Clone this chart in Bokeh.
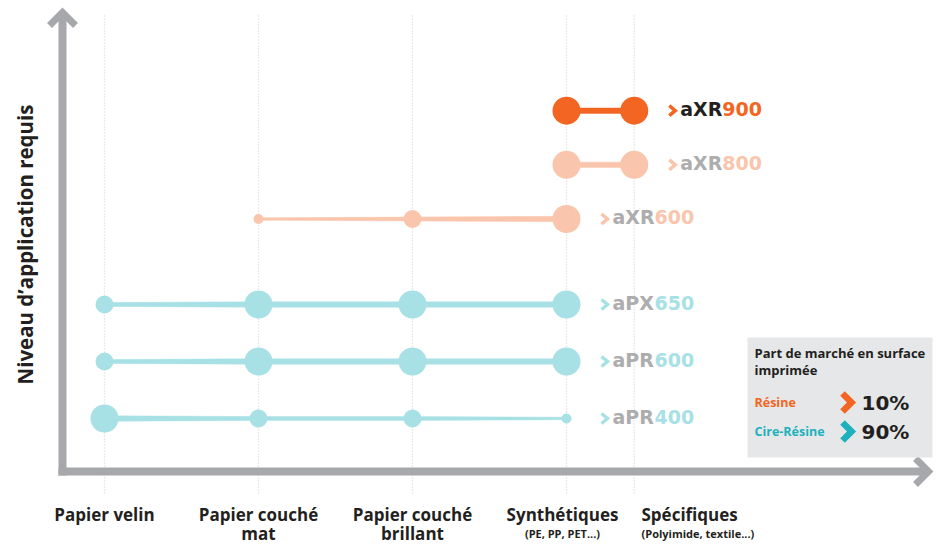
import math
from bokeh.plotting import figure
from bokeh.models import Range1d
from bokeh.core.properties import value
from bokeh.embed import file_html
from bokeh.resources import INLINE

# ---------------- data ----------------
categories = ["Papier velin", "Papier couché", "Papier couché", "Synthétiques", "Spécifiques"]
categories_line2 = ["", "mat", "brillant", "(PE, PP, PET...)", "(Polyimide, textile...)"]
category_pos = [0, 1, 2, 3, 3.44]

series_brand = ["aXR", "aXR", "aXR", "aPX", "aPR", "aPR"]
series_number = ["900", "800", "600", "650", "600", "400"]
series_level = [6.4, 5.45, 4.5, 3, 2, 1]
series_cats = [[3, 4], [3, 4], [1, 2, 3], [0, 1, 2, 3], [0, 1, 2, 3], [0, 1, 2, 3]]
series_sizes = [[3, 3], [3, 3], [1, 2, 3], [2, 3, 3, 3], [2, 3, 3, 3], [3, 2, 2, 1]]

share_labels = ["Résine", "Cire-Résine"]
share_values = ["10%", "90%"]

# ---------------- styles ----------------
ORANGE = "#f26522"
PEACH = "#f9c6ad"
CYAN = "#a8e1e5"
TEAL = "#1cb1bd"
DARK = "#231f20"
GREY_TXT = "#adadad"
AXIS = "#a7a8ab"
series_color = [ORANGE, PEACH, PEACH, CYAN, CYAN, CYAN]
brand_color = [DARK, GREY_TXT, GREY_TXT, GREY_TXT, GREY_TXT, GREY_TXT]
diam = {1: 10, 2: 18, 3: 28}
half_w = {1: 1.2, 2: 1.9, 3: 2.7}
FONT = value("Open Sans")
LOGO = value("DejaVu Sans")

W, H = 939, 544
PX_X = 154.0   # pixels per category step
PX_Y = 57.0    # pixels per level


def X(px):
    return (px - 104) / PX_X


def Y(py):
    return 1 + (418 - py) / PX_Y


p = figure(width=W, height=H, output_backend="svg", toolbar_location=None,
           x_range=Range1d(X(0), X(W)), y_range=Range1d(Y(H), Y(0)),
           x_axis_type=None, y_axis_type=None, min_border=0)
p.outline_line_color = None
p.background_fill_color = "white"
p.border_fill_color = "white"

# dotted guides
p.segment(x0=category_pos, y0=[Y(493)] * 5, x1=category_pos, y1=[Y(13)] * 5,
          line_color="#d6d6d6", line_width=1.3, line_dash="1 2")

# axes arrows
p.line([X(62), X(62)], [Y(475), Y(12)], line_color=AXIS, line_width=8)
p.line([X(49), X(62), X(75)], [Y(25), Y(12), Y(25)], line_color=AXIS, line_width=7,
       line_join="miter")
p.line([X(58), X(928)], [Y(471), Y(471)], line_color=AXIS, line_width=8)
p.line([X(915), X(928), X(915)], [Y(458), Y(471), Y(484)], line_color=AXIS, line_width=7,
       line_join="miter")

# series: tapered connectors + dots
for i in range(len(series_level)):
    yv = series_level[i]
    xs = [category_pos[c] for c in series_cats[i]]
    ss = series_sizes[i]
    col = series_color[i]
    px_list, py_list = [], []
    for k in range(len(xs) - 1):
        h0 = half_w[ss[k]] / PX_Y
        h1 = half_w[ss[k + 1]] / PX_Y
        px_list.append([xs[k], xs[k + 1], xs[k + 1], xs[k]])
        py_list.append([yv + h0, yv + h1, yv - h1, yv - h0])
    p.patches(px_list, py_list, fill_color=col, line_color=col, line_width=0.5)
    p.scatter(xs, [yv] * len(xs), size=[diam[s] for s in ss], fill_color=col,
              line_color=None)
    lx = xs[-1]
    # chevron before the product name
    cx = [lx + 35 / PX_X, lx + 41 / PX_X, lx + 35 / PX_X]
    cy = [yv + 5 / PX_Y, yv, yv - 5 / PX_Y]
    p.line(cx, cy, line_color=col, line_width=3.5, line_join="miter")
    p.text([lx], [yv], text=[series_brand[i]], x_offset=46, y_offset=-2, text_font=LOGO,
           text_font_style="bold", text_font_size="19px", text_color=brand_color[i],
           text_baseline="middle", text_align="left")
    p.text([lx], [yv], text=[series_number[i]], x_offset=88, y_offset=-2, text_font=LOGO,
           text_font_style="bold", text_font_size="19px", text_color=col,
           text_baseline="middle", text_align="left")

# category labels
for j in range(len(categories)):
    if j == 4:
        xx, align = X(641), "left"
    else:
        xx, align = category_pos[j], "center"
    if j == 3:
        xx = X(562)
    p.text([xx], [Y(514)], text=[categories[j]], text_font=FONT, text_font_style="bold",
           text_font_size="17px", text_color=DARK, text_align=align, text_baseline="middle")
    if categories_line2[j]:
        small = j >= 3
        p.text([xx], [Y(533)], text=[categories_line2[j]], text_font=FONT,
               text_font_style="bold", text_font_size="11px" if small else "17px",
               text_color=DARK, text_align=align, text_baseline="middle")

# y axis title
p.text([X(24)], [Y(244)], text=["Niveau d’application requis"], angle=math.pi / 2,
       text_font=FONT, text_font_style="bold", text_font_size="20.5px", text_color=DARK,
       text_align="center", text_baseline="middle")

# market share box
p.quad(left=[X(747)], right=[X(932)], top=[Y(337)], bottom=[Y(457)],
       fill_color="#e6e7e8", line_color=None)
p.text([X(754)], [Y(352)], text=["Part de marché en surface"], text_font=FONT,
       text_font_style="bold", text_font_size="13px", text_color=DARK,
       text_baseline="middle")
p.text([X(754)], [Y(369)], text=["imprimée"], text_font=FONT,
       text_font_style="bold", text_font_size="13px", text_color=DARK,
       text_baseline="middle")
share_colors = [ORANGE, TEAL]
share_y = [402, 431]
p.text([X(754)] * 2, [Y(v) for v in share_y], text=share_labels, text_font=FONT,
       text_font_style="bold", text_font_size="12.5px", text_color=share_colors,
       text_baseline="middle")
p.multi_line([[X(842), X(851), X(842)] for _ in share_y],
             [[Y(v - 9), Y(v), Y(v + 9)] for v in share_y],
             line_color=share_colors, line_width=6.5, line_join="miter")
p.text([X(861)] * 2, [Y(v) for v in share_y], text=share_values, text_font=LOGO,
       text_font_style="bold", text_font_size="20px", text_color=DARK,
       text_baseline="middle")

open("out.html", "w").write(file_html(p, INLINE))
